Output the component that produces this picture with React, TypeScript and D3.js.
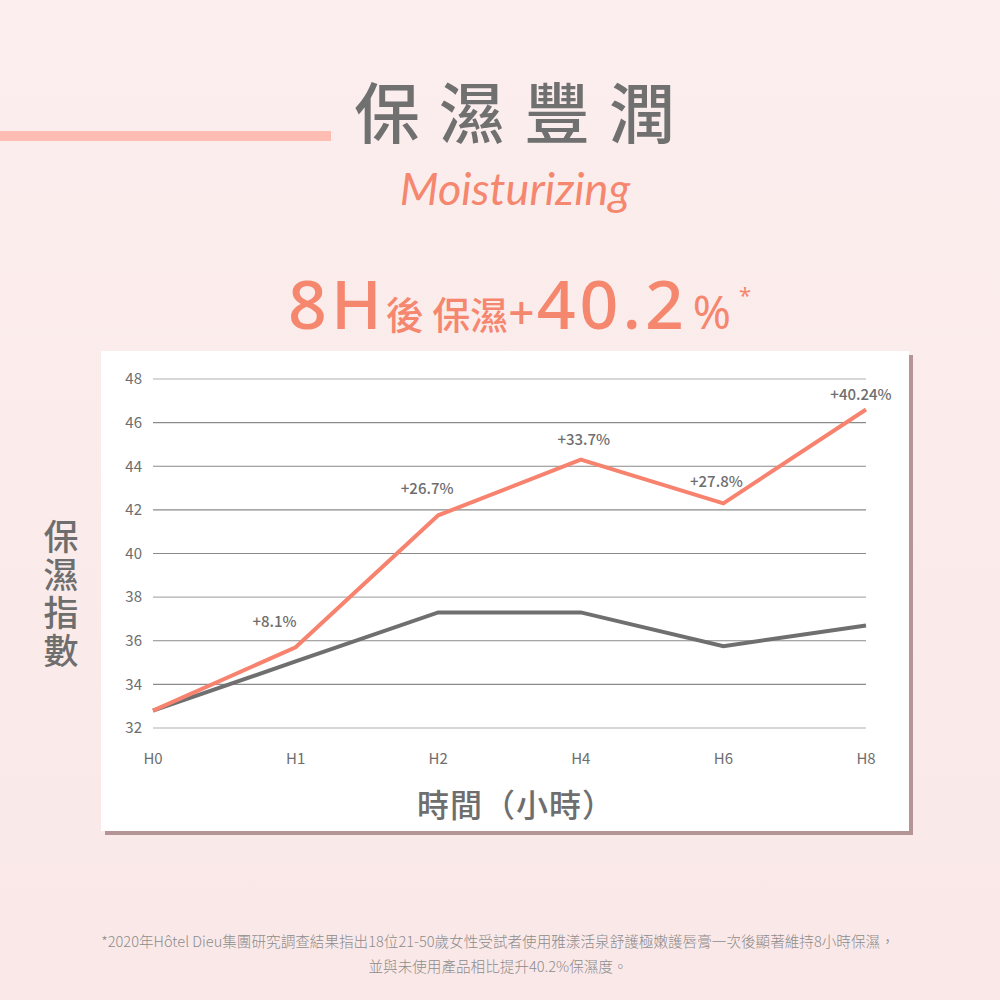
import { useEffect, useRef } from 'react';
import * as d3 from 'd3';

// chart data
const hours = ['H0', 'H1', 'H2', 'H4', 'H6', 'H8'];
const treated = [32.8, 35.7, 41.75, 44.3, 42.3, 46.6];
const untreated = [32.8, 35.05, 37.3, 37.3, 35.75, 36.7];
const gains = ['', '+8.1%', '+26.7%', '+33.7%', '+27.8%', '+40.24%'];
const yTicks = [32, 34, 36, 38, 40, 42, 44, 46, 48];

const CJK = '"Noto Sans CJK TC", "Noto Sans", sans-serif';
const CORAL = '#F5876F';
const GREY = '#6E6E6E';

const App = () => {
  const ref = useRef<SVGSVGElement>(null);

  useEffect(() => {
    const width = 1000;
    const height = 1000;
    const svg = d3.select(ref.current).attr('width', width).attr('height', height);
    svg.selectAll('*').remove();

    const defs = svg.append('defs');
    const bg = defs.append('linearGradient').attr('id', 'bg').attr('x1', 0).attr('y1', 0).attr('x2', 0).attr('y2', 1);
    bg.append('stop').attr('offset', '0%').attr('stop-color', '#FCEEEE');
    bg.append('stop').attr('offset', '100%').attr('stop-color', '#FAE8E8');

    svg.append('rect').attr('width', width).attr('height', height).attr('fill', 'url(#bg)');

    // heading
    svg.append('rect').attr('x', 0).attr('y', 131).attr('width', 331).attr('height', 10).attr('fill', '#FFBCB3');
    svg.append('text')
      .attr('x', 354).attr('y', 138)
      .attr('font-family', CJK).attr('font-size', 66).attr('font-weight', 500)
      .attr('letter-spacing', 19).attr('fill', '#707070')
      .text('保濕豐潤');
    svg.append('text')
      .attr('x', 515).attr('y', 205).attr('text-anchor', 'middle')
      .attr('font-family', 'Lato, "Noto Sans", sans-serif').attr('font-style', 'italic').attr('font-weight', 400)
      .attr('font-size', 45).attr('letter-spacing', 0).attr('fill', CORAL)
      .text('Moisturizing');

    const head = svg.append('text')
      .attr('x', 288).attr('y', 329)
      .attr('font-family', '"Noto Sans", sans-serif').attr('fill', CORAL);
    head.append('tspan').attr('font-size', 68).attr('font-weight', 500).attr('letter-spacing', 4).text('8H');
    head.append('tspan').attr('font-family', CJK).attr('font-size', 38).attr('font-weight', 500).text('後 保濕');
    head.append('tspan').attr('font-size', 46).attr('font-weight', 500).attr('letter-spacing', 2).text('+');
    head.append('tspan').attr('font-size', 68).attr('font-weight', 500).attr('letter-spacing', 4).text('40.2');
    head.append('tspan').attr('font-size', 46).attr('font-weight', 400).attr('dx', 5).text('%');
    head.append('tspan').attr('font-size', 22).attr('dx', 8).attr('dy', -26).text('*');

    // chart card with shadow
    const card = { x: 101, y: 351, w: 808, h: 480 };
    svg.append('rect').attr('x', card.x + 4).attr('y', card.y + 4).attr('width', card.w).attr('height', card.h).attr('fill', '#B49494');
    svg.append('rect').attr('x', card.x).attr('y', card.y).attr('width', card.w).attr('height', card.h).attr('fill', '#FFFFFF');

    const x = d3.scalePoint<string>().domain(hours).range([153, 866]);
    const y = d3.scaleLinear().domain([32, 48]).range([728, 379]);

    const grid = svg.append('g');
    grid.selectAll('line')
      .data(yTicks)
      .join('line')
      .attr('x1', 153).attr('x2', 866)
      .attr('y1', (d) => y(d)).attr('y2', (d) => y(d))
      .attr('stroke', (d) => (d === 32 || d === 38 || d === 48 ? '#AFAFAF' : '#8A8A8A'))
      .attr('stroke-width', 1.2);
    grid.selectAll('text')
      .data(yTicks)
      .join('text')
      .attr('x', 142).attr('y', (d) => y(d)).attr('dy', '0.35em')
      .attr('text-anchor', 'end')
      .attr('font-family', CJK).attr('font-size', 15).attr('fill', GREY)
      .text((d) => d);

    svg.append('g').selectAll('text')
      .data(hours)
      .join('text')
      .attr('x', (d) => x(d) as number).attr('y', 764)
      .attr('text-anchor', 'middle')
      .attr('font-family', CJK).attr('font-size', 15).attr('fill', GREY)
      .text((d) => d);

    const line = d3.line<number>()
      .x((_, i) => x(hours[i]) as number)
      .y((d) => y(d));

    svg.append('path').datum(untreated).attr('d', line)
      .attr('fill', 'none').attr('stroke', '#6F6F6F').attr('stroke-width', 4).attr('stroke-linejoin', 'miter');
    svg.append('path').datum(treated).attr('d', line)
      .attr('fill', 'none').attr('stroke', '#F7836F').attr('stroke-width', 4).attr('stroke-linejoin', 'miter');

    // value labels
    const labelOffset = [[0, 0], [-21, -20], [-11, -21], [3, -15], [-7, -16], [-5, -10]];
    svg.append('g').selectAll('text')
      .data(gains)
      .join('text')
      .filter((d) => d !== '')
      .attr('x', (_, i) => (x(hours[i + 1]) as number) + labelOffset[i + 1][0])
      .attr('y', (_, i) => y(treated[i + 1]) + labelOffset[i + 1][1])
      .attr('text-anchor', 'middle')
      .attr('font-family', CJK).attr('font-size', 15).attr('font-weight', 500).attr('fill', GREY)
      .text((d) => d);

    // axis titles
    svg.append('text')
      .attr('x', 61).attr('y', 519)
      .attr('writing-mode', 'vertical-rl')
      .style('text-orientation', 'upright')
      .attr('font-family', CJK).attr('font-size', 35).attr('font-weight', 500).attr('fill', GREY)
      .attr('letter-spacing', 3)
      .text('保濕指數');
    svg.append('text')
      .attr('x', 516).attr('y', 817).attr('text-anchor', 'middle')
      .attr('font-family', CJK).attr('font-size', 32).attr('font-weight', 500).attr('fill', GREY)
      .attr('letter-spacing', 1)
      .text('時間（小時）');

    // footnote
    const foot = svg.append('g')
      .attr('font-family', CJK).attr('font-size', 14.6).attr('font-weight', 300)
      .attr('fill', '#8C8C8C').attr('text-anchor', 'middle');
    foot.append('text').attr('x', 498).attr('y', 947)
      .text('*2020年Hôtel Dieu集團研究調查結果指出18位21-50歲女性受試者使用雅漾活泉舒護極嫩護唇膏一次後顯著維持8小時保濕，');
    foot.append('text').attr('x', 498).attr('y', 972)
      .text('並與未使用產品相比提升40.2%保濕度。');
  }, []);

  return (
    <div style={{ position: 'absolute', left: 0, top: 0 }}>
      <svg ref={ref} style={{ display: 'block' }}></svg>
    </div>
  );
};

export default App;
